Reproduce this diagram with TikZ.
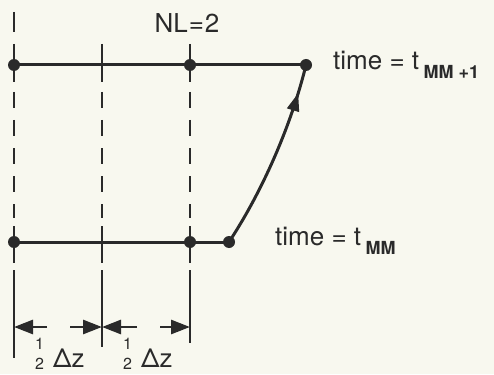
\documentclass[tikz,border=0pt]{standalone}
\usepackage{fontspec}
\setmainfont{TeX Gyre Heros}
\usepackage{tikz}
\usetikzlibrary{arrows.meta,decorations.markings}
\definecolor{ink}{HTML}{2A2A2A}
\definecolor{paper}{HTML}{F8F8EF}
\newcommand{\subidx}[1]{\raisebox{-9pt}{\fontsize{18}{18}\selectfont\bfseries #1}}
\newcommand{\halfdz}{\raisebox{-2pt}{\vbox{\fontsize{16}{20}\selectfont\hbox{1}\hbox{2}}}\hspace{9pt}Δz}
\tikzset{
  guide/.style={draw=ink, line width=2.8pt},
  dashguide/.style={guide, dash pattern=on 16pt off 12pt},
  level/.style={draw=ink, line width=3pt},
  dot/.style={circle, fill=ink, inner sep=0pt, minimum size=12pt},
  dimarrow/.style={-{Triangle[length=19pt,width=14pt]}, draw=ink, line width=2.8pt},
  lbl/.style={inner sep=0pt, text=ink, font=\fontsize{26}{30}\selectfont},
}

\begin{document}
\begin{tikzpicture}[x=1pt, y=-1pt]
  \path[use as bounding box, fill=paper] (0,0) rectangle (494,374);
  % grid lines in z
  \foreach \n/\x/\bot in {a/14/358, b/102/347, c/190/343} {
    \coordinate (\n t1) at (\x,44);
    \coordinate (\n t2) at (\x,82);
    \coordinate (\n d1) at (\x,92);
    \coordinate (\n d2) at (\x,218);
    \coordinate (\n b1) at (\x,226);
    \coordinate (\n b2) at (\x,263);
    \coordinate (\n s1) at (\x,270);
    \coordinate (\n s2) at (\x,\bot);
    \draw[guide] (\n t1) -- (\n t2);
    \draw[dashguide] (\n d1) -- (\n d2);
    \draw[guide] (\n b1) -- (\n b2);
    \draw[guide] (\n s1) -- (\n s2);
  }
  \coordinate (atop) at (14,12);
  \coordinate (atop2) at (14,32);
  \draw[guide] (atop) -- (atop2);
  % time levels
  \node[dot] (a1) at (14,65) {};
  \coordinate (b1) at (102,65);
  \node[dot] (c1) at (190,65) {};
  \node[dot] (d1) at (306,65) {};
  \node[dot] (a0) at (14,242) {};
  \coordinate (b0) at (102,242);
  \node[dot] (c0) at (190,242) {};
  \node[dot] (d0) at (229,242) {};
  \draw[level] (a1.center) -- (d1.center);
  \draw[level] (a0.center) -- (d0.center);
  \draw[level, postaction=decorate, decoration={markings,
      mark=at position 0.85 with {\arrow{Triangle[length=18pt,width=12pt]}}}]
    (d0.center) .. controls (260,195) and (290,130) .. (d1.center);
  \node[lbl] (nl) at (187,23) {NL\kern1pt=\kern1pt2};
  \node[lbl, anchor=base west] (tnew) at (333,70) {time = t\,\subidx{MM +1}};
  \node[lbl, anchor=base west] (told) at (275,245) {time = t\,\subidx{MM}};
  % half cell widths
  \coordinate (p1) at (47,327);
  \coordinate (p2) at (70,327);
  \coordinate (p3) at (137,327);
  \coordinate (p4) at (160,327);
  \coordinate (q0) at (14,327);
  \coordinate (q1) at (102,327);
  \coordinate (q2) at (190,327);
  \foreach \a/\b in {p1/q0,p2/q1,p3/q1,p4/q2}
    \draw[dimarrow] (\a) -- (\b);
  \node[lbl, anchor=base west] (hz1) at (35,367) {\halfdz};
  \node[lbl, anchor=base west] (hz2) at (123,367) {\halfdz};
\end{tikzpicture}
\end{document}
